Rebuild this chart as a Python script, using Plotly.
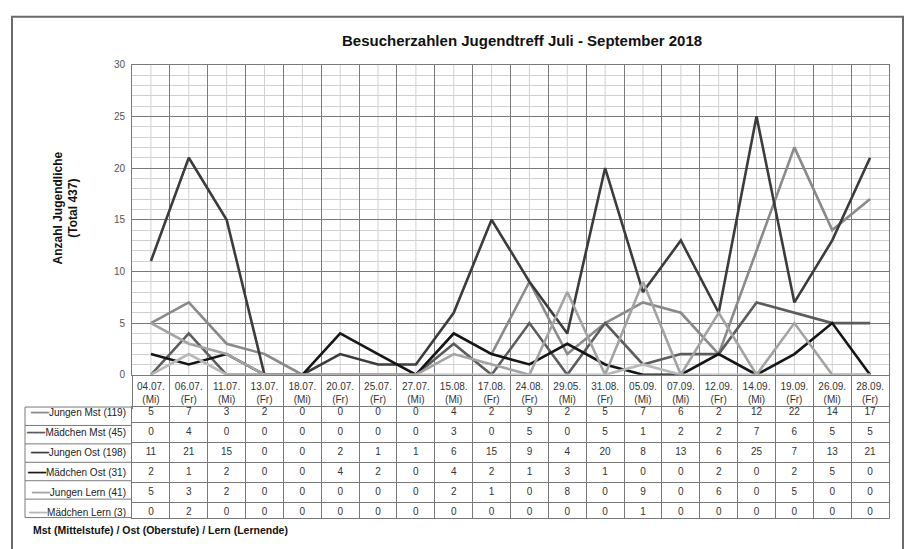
import plotly.graph_objects as go

# ---------------- data ----------------
dates = ["04.07.", "06.07.", "11.07.", "13.07.", "18.07.", "20.07.", "25.07.", "27.07.",
         "15.08.", "17.08.", "24.08.", "29.05.", "31.08.", "05.09.", "07.09.", "12.09.",
         "14.09.", "19.09.", "26.09.", "28.09."]
days = ["Mi", "Fr", "Mi", "Fr", "Mi", "Fr", "Fr", "Mi", "Mi", "Fr",
        "Fr", "Mi", "Fr", "Mi", "Mi", "Fr", "Mi", "Fr", "Mi", "Fr"]

series_names = ["Jungen Mst (119)", "Mädchen Mst (45)", "Jungen Ost (198)",
                "Mädchen Ost (31)", "Jungen Lern (41)", "Mädchen Lern (3)"]

jungen_mst = [5, 7, 3, 2, 0, 0, 0, 0, 4, 2, 9, 2, 5, 7, 6, 2, 12, 22, 14, 17]
maedchen_mst = [0, 4, 0, 0, 0, 0, 0, 0, 3, 0, 5, 0, 5, 1, 2, 2, 7, 6, 5, 5]
jungen_ost = [11, 21, 15, 0, 0, 2, 1, 1, 6, 15, 9, 4, 20, 8, 13, 6, 25, 7, 13, 21]
maedchen_ost = [2, 1, 2, 0, 0, 4, 2, 0, 4, 2, 1, 3, 1, 0, 0, 2, 0, 2, 5, 0]
jungen_lern = [5, 3, 2, 0, 0, 0, 0, 0, 2, 1, 0, 8, 0, 9, 0, 6, 0, 5, 0, 0]
maedchen_lern = [0, 2, 0, 0, 0, 0, 0, 0, 0, 0, 0, 0, 0, 1, 0, 0, 0, 0, 0, 0]

series_values = [jungen_mst, maedchen_mst, jungen_ost, maedchen_ost, jungen_lern, maedchen_lern]
series_colors = ["#8a8a8a", "#5c5c5c", "#3c3c3c", "#161616", "#a3a3a3", "#b8b8b8"]

title_text = "Besucherzahlen Jugendtreff Juli - September 2018"
ytitle_text = "Anzahl Jugendliche<br>(Total 437)"
footer_text = "Mst (Mittelstufe) / Ost (Oberstufe) / Lern (Lernende)"

categories = [f"{d}<br>({w})" for d, w in zip(dates, days)]

# ---------------- layout helpers ----------------
W, H = 909, 549
L, R = 132, 20
PW = W - L - R


def px_x(px):
    return (px - L) / PW


def px_y(py):
    return (H - py) / H


FONT = "Liberation Sans, Arial, sans-serif"
DARK_GRID = "#7a7a7a"
LIGHT_GRID = "#d0d0d0"

PLOT_TOP, PLOT_BOTTOM = 60, 377
TABLE_TOP, TABLE_BOTTOM = 410, 523

fig = go.Figure()

# lines
for name, vals, col in zip(series_names, series_values, series_colors):
    fig.add_trace(go.Scatter(x=categories, y=vals, mode="lines", name=name,
                             line=dict(color=col, width=2.6),
                             xaxis="x", yaxis="y", hoverinfo="x+y+name"))

# data-table cells
for name, vals in zip(series_names, series_values):
    fig.add_trace(go.Scatter(x=categories, y=[name] * len(vals), text=[str(v) for v in vals],
                             mode="text", xaxis="x2", yaxis="y2",
                             textfont=dict(family=FONT, size=10, color="#333"),
                             hoverinfo="skip", showlegend=False))

tick_text = [f'<span style="color:{c}">━━━</span>{n}' for n, c in zip(series_names, series_colors)]

shapes = []
# light vertical lines at category centres
for c in categories:
    shapes.append(dict(type="line", xref="x", yref="y domain", x0=c, x1=c, y0=0, y1=1,
                       line=dict(color=LIGHT_GRID, width=1), layer="below"))
# label column of the data table
xl = px_x(25)
shapes.append(dict(type="line", xref="paper", yref="y2 domain", x0=xl, x1=xl, y0=0, y1=1,
                   line=dict(color=DARK_GRID, width=1)))
for k in range(len(series_names) + 1):
    shapes.append(dict(type="line", xref="paper", yref="y2 domain", x0=xl, x1=0,
                       y0=k / len(series_names), y1=k / len(series_names),
                       line=dict(color=DARK_GRID, width=1)))
# outer frame
shapes.append(dict(type="rect", xref="paper", yref="paper", x0=px_x(12), x1=px_x(903),
                   y0=-0.1, y1=px_y(11), line=dict(color="#6a6a6a", width=2)))

annotations = [
    dict(text=f"<b>{title_text}</b>", xref="paper", yref="paper", x=px_x(522), y=px_y(35),
         xanchor="center", yanchor="middle",
         showarrow=False, font=dict(family=FONT, size=15, color="#111")),
    dict(text=f"<b>{ytitle_text}</b>", xref="paper", yref="paper", x=px_x(66), y=px_y(207),
         xanchor="center", yanchor="middle",
         showarrow=False, textangle=-90, font=dict(family=FONT, size=12, color="#111")),
    dict(text=f"<b>{footer_text}</b>", xref="paper", yref="paper", x=px_x(31), y=px_y(536),
         xanchor="left", yanchor="middle", showarrow=False,
         font=dict(family=FONT, size=10.5, color="#111")),
]

fig.update_layout(
    width=W, height=H,
    margin=dict(l=L, r=R, t=0, b=0),
    paper_bgcolor="white", plot_bgcolor="white",
    showlegend=False,
    font=dict(family=FONT, size=10, color="#333"),
    xaxis=dict(type="category", categoryorder="array", categoryarray=categories,
               range=[-0.5, len(categories) - 0.5], anchor="y",
               tickson="boundaries", ticks="outside", ticklen=TABLE_TOP - PLOT_BOTTOM,
               tickcolor=DARK_GRID, tickangle=0, ticklabelstandoff=2,
               showgrid=True, gridcolor=DARK_GRID, gridwidth=1,
               showline=True, linecolor=DARK_GRID, mirror=True,
               tickfont=dict(family=FONT, size=10, color="#333"), domain=[0, 1]),
    yaxis=dict(range=[0, 30], dtick=5, domain=[px_y(PLOT_BOTTOM), px_y(PLOT_TOP)], anchor="x",
               showgrid=True, gridcolor=DARK_GRID, gridwidth=1,
               minor=dict(dtick=1, showgrid=True, gridcolor=LIGHT_GRID, gridwidth=1),
               showline=True, linecolor=DARK_GRID, mirror=True, zeroline=False,
               ticks="", ticklabelstandoff=4,
               tickfont=dict(family=FONT, size=10, color="#555")),
    xaxis2=dict(type="category", matches="x", anchor="y2", showticklabels=False,
                tickson="boundaries", ticks="", showgrid=True, gridcolor=DARK_GRID,
                showline=True, linecolor=DARK_GRID, mirror=True, domain=[0, 1]),
    yaxis2=dict(type="category", categoryorder="array", categoryarray=series_names,
                autorange="reversed", anchor="x2",
                domain=[px_y(TABLE_BOTTOM), px_y(TABLE_TOP)],
                tickson="boundaries", ticks="", showgrid=True, gridcolor=DARK_GRID,
                showline=True, linecolor=DARK_GRID, mirror=True, zeroline=False,
                tickmode="array", tickvals=series_names, ticktext=tick_text,
                ticklabelstandoff=3,
                tickfont=dict(family=FONT, size=10, color="#222")),
    shapes=shapes,
    annotations=annotations,
)

fig.write_html("out.html", config={"displayModeBar": False},
               post_script="document.body.style.margin='0px';")
